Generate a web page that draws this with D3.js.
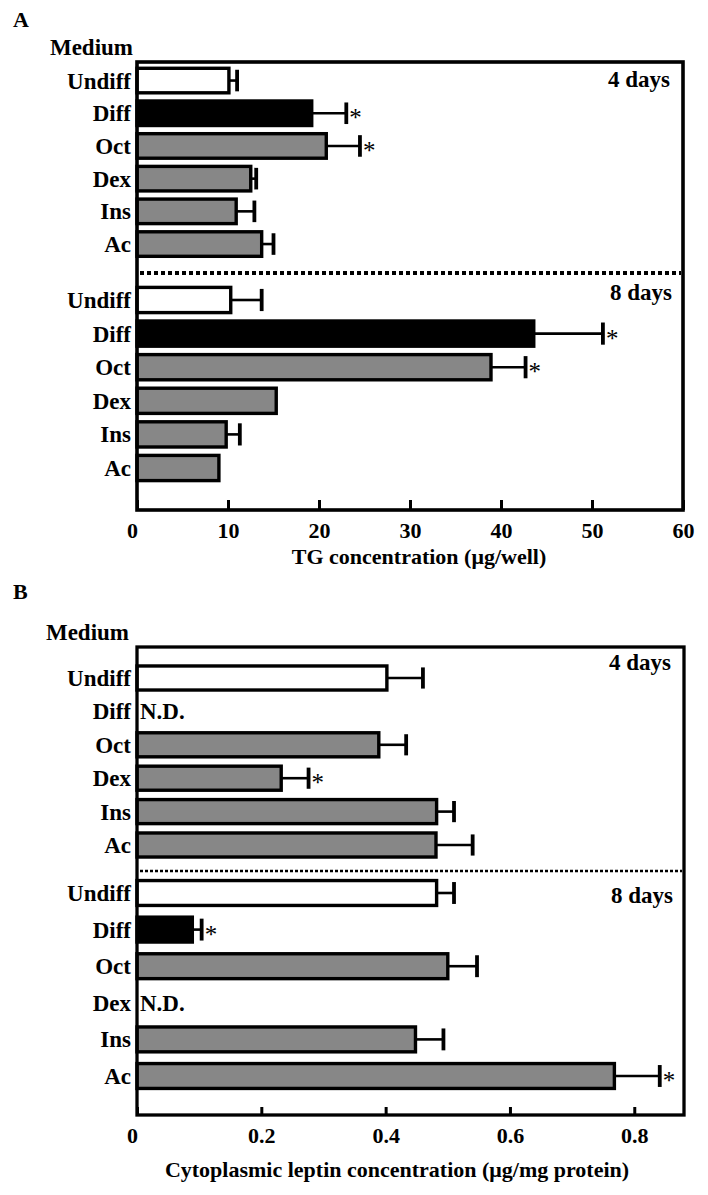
<!DOCTYPE html>
<html>
<head>
<meta charset="utf-8">
<script src="https://cdn.jsdelivr.net/npm/d3@7"></script>
<style>
  html, body { margin: 0; padding: 0; background: #fff; }
  svg { display: block; }
  text { font-family: "Liberation Serif", "Times New Roman", serif; font-weight: bold; fill: #000; }
</style>
</head>
<body>
<svg id="chart" width="708" height="1195"></svg>
<script>
// ---------- data ----------
const categories = ["Undiff", "Diff", "Oct", "Dex", "Ins", "Ac"];

// Panel A: TG concentration (µg/well)
const tg4Mean = [10.1, 19.2, 20.8, 12.5, 10.9, 13.7];
const tg4Err  = [0.9, 3.8, 3.7, 0.6, 2.0, 1.3];
const tg4Sig  = [false, true, true, false, false, false];
const tg8Mean = [10.3, 43.6, 38.9, 15.3, 9.8, 9.0];
const tg8Err  = [3.4, 7.6, 3.8, 0, 1.5, 0];
const tg8Sig  = [false, true, true, false, false, false];
const tgTicks = [0, 10, 20, 30, 40, 50, 60];

// Panel B: cytoplasmic leptin (µg/mg protein); null = N.D.
const lep4Mean = [0.402, null, 0.389, 0.232, 0.482, 0.481];
const lep4Err  = [0.058, null, 0.044, 0.044, 0.028, 0.059];
const lep4Sig  = [false, false, false, true, false, false];
const lep8Mean = [0.482, 0.089, 0.500, null, 0.448, 0.768];
const lep8Err  = [0.028, 0.015, 0.047, null, 0.045, 0.073];
const lep8Sig  = [false, true, false, false, false, true];
const lepTicks = [0, 0.2, 0.4, 0.6, 0.8];

const groupLabels = ["4 days", "8 days"];

// ---------- drawing ----------
const svg = d3.select("#chart");
const fillFor = c => c === "Undiff" ? "#ffffff" : (c === "Diff" ? "#000000" : "#878787");

function drawGroup(g, x, y, means, errs, sigs, opts) {
  const rows = categories.map((c, i) => ({c, m: means[i], e: errs[i], s: sigs[i]}));
  const bh = y.bandwidth();
  // labels
  g.selectAll("text.cat").data(rows).join("text")
    .attr("class", "cat")
    .attr("x", opts.labelX).attr("y", d => y(d.c) + bh / 2)
    .attr("dy", "0.35em").attr("text-anchor", "end")
    .style("font-size", "23px").text(d => d.c);
  const present = rows.filter(d => d.m !== null);
  const nd = rows.filter(d => d.m === null);
  g.selectAll("text.nd").data(nd).join("text")
    .attr("class", "nd")
    .attr("x", x(0) + 3).attr("y", d => y(d.c) + bh / 2)
    .attr("dy", "0.35em").style("font-size", "23px").text("N.D.");
  // error bars
  const withErr = present.filter(d => d.e > 0);
  g.selectAll("line.err").data(withErr).join("line")
    .attr("class", "err")
    .attr("x1", d => x(d.m)).attr("x2", d => x(d.m + d.e))
    .attr("y1", d => y(d.c) + bh / 2).attr("y2", d => y(d.c) + bh / 2)
    .attr("stroke", "#000").attr("stroke-width", 2.6);
  g.selectAll("line.cap").data(withErr).join("line")
    .attr("class", "cap")
    .attr("x1", d => x(d.m + d.e)).attr("x2", d => x(d.m + d.e))
    .attr("y1", d => y(d.c) + bh * 0.06).attr("y2", d => y(d.c) + bh * 0.94)
    .attr("stroke", "#000").attr("stroke-width", 3.8);
  // bars
  g.selectAll("rect.bar").data(present).join("rect")
    .attr("class", "bar")
    .attr("x", x(0)).attr("y", d => y(d.c))
    .attr("width", d => x(d.m) - x(0)).attr("height", bh)
    .attr("fill", d => fillFor(d.c))
    .attr("stroke", "#000").attr("stroke-width", 3.4);
  // significance stars
  g.selectAll("text.sig").data(present.filter(d => d.s)).join("text")
    .attr("class", "sig")
    .attr("x", d => x(d.m + d.e) + 3).attr("y", d => y(d.c) + bh / 2 + 13)
    .style("font-size", "25px").style("font-weight", "normal").text("*");
}

function drawPanel(cfg) {
  const g = svg.append("g");
  const x = d3.scaleLinear().domain(cfg.domain).range([cfg.left, cfg.right]);
  const y4 = d3.scaleBand().domain(categories).range(cfg.r4)
    .paddingInner(cfg.p4).paddingOuter(cfg.p4 / 2);
  const y8 = d3.scaleBand().domain(categories).range(cfg.r8)
    .paddingInner(cfg.p8).paddingOuter(cfg.p8 / 2);

  // panel letter & header
  g.append("text").attr("x", 13).attr("y", cfg.letterY).style("font-size", "22px").text(cfg.letter);
  g.append("text").attr("x", cfg.mediumX).attr("y", cfg.mediumY).attr("text-anchor", "end")
    .style("font-size", "23px").text("Medium");

  drawGroup(g.append("g"), x, y4, cfg.m4, cfg.e4, cfg.s4, {labelX: 131});
  drawGroup(g.append("g"), x, y8, cfg.m8, cfg.e8, cfg.s8, {labelX: 131});

  // separator
  g.append("line").attr("x1", cfg.left + 3).attr("x2", cfg.right - 2)
    .attr("y1", cfg.sepY).attr("y2", cfg.sepY)
    .attr("stroke", "#000").attr("stroke-width", cfg.sepW).attr("stroke-dasharray", cfg.sepDash);

  // group labels
  g.append("text").attr("x", cfg.right - 13).attr("y", cfg.g4Y).attr("text-anchor", "end")
    .style("font-size", "23px").text(groupLabels[0]);
  g.append("text").attr("x", cfg.right - 11).attr("y", cfg.g8Y).attr("text-anchor", "end")
    .style("font-size", "23px").text(groupLabels[1]);

  // axis (ticks inward)
  const ax = g.append("g").attr("transform", `translate(0,${cfg.bottom})`)
    .call(d3.axisBottom(x).tickValues(cfg.ticks).tickSize(-cfg.tickLen).tickPadding(12)
      .tickFormat(cfg.fmt));
  ax.select(".domain").remove();
  ax.selectAll(".tick line").attr("stroke", "#000").attr("stroke-width", 3);
  ax.selectAll(".tick text").style("font-size", "22px")
    .style("font-family", "'Liberation Serif', 'Times New Roman', serif").style("font-weight", "bold")
    .attr("fill", "#000");
  ax.selectAll(".tick").filter(d => d === 0).select("text").attr("dx", -5);

  // frame
  g.append("rect").attr("x", cfg.left).attr("y", cfg.top)
    .attr("width", cfg.right - cfg.left).attr("height", cfg.bottom - cfg.top)
    .attr("fill", "none").attr("stroke", "#000").attr("stroke-width", cfg.frameW);

  // axis title
  g.append("text").attr("x", cfg.titleX).attr("y", cfg.titleY).attr("text-anchor", "middle")
    .style("font-size", cfg.titleSize).text(cfg.title);
}

drawPanel({
  letter: "A", letterY: 27, mediumX: 133, mediumY: 55,
  domain: [0, 60], left: 137, right: 683, top: 62, bottom: 510, frameW: 3.6,
  r4: [64.2, 260.4], p4: 0.25, r8: [283.2, 484.8], p8: 0.25,
  m4: tg4Mean, e4: tg4Err, s4: tg4Sig, m8: tg8Mean, e8: tg8Err, s8: tg8Sig,
  sepY: 273, sepW: 4, sepDash: "4,3", g4Y: 87, g8Y: 300,
  ticks: tgTicks, tickLen: 10, fmt: d3.format("d"),
  title: "TG concentration (\u03bcg/well)", titleX: 419, titleY: 564, titleSize: "22px"
});

drawPanel({
  letter: "B", letterY: 599, mediumX: 129, mediumY: 640,
  domain: [0, 0.88], left: 137, right: 684, top: 647, bottom: 1115, frameW: 3.3,
  r4: [661.3, 861.7], p4: 0.28, r8: [874.7, 1094.3], p8: 0.32,
  m4: lep4Mean, e4: lep4Err, s4: lep4Sig, m8: lep8Mean, e8: lep8Err, s8: lep8Sig,
  sepY: 871, sepW: 2.6, sepDash: "3,2", g4Y: 670, g8Y: 903,
  ticks: lepTicks, tickLen: 8, fmt: d => d === 0 ? "0" : d3.format(".1f")(d),
  title: "Cytoplasmic leptin concentration (\u03bcg/mg protein)", titleX: 397, titleY: 1177, titleSize: "22px"
});
</script>
</body>
</html>
